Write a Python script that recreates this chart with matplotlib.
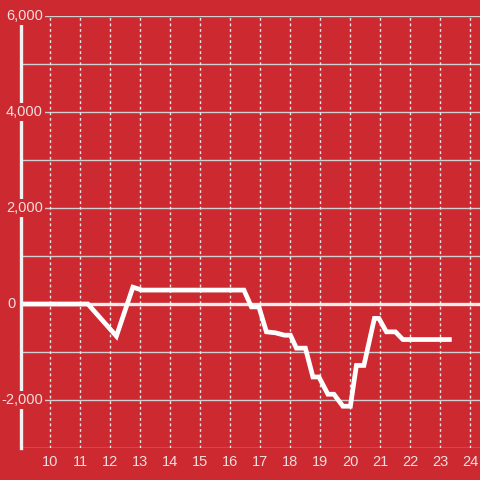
import matplotlib.pyplot as plt
from matplotlib.transforms import blended_transform_factory

# hours of the day and running value
hours = [9.0, 11.25, 12.2, 12.75, 13.05, 16.45, 16.7, 16.95, 17.2, 17.5,
         17.8, 18.0, 18.2, 18.5, 18.75, 18.95, 19.25, 19.45, 19.75, 20.0,
         20.2, 20.45, 20.8, 20.95, 21.2, 21.5, 21.75, 23.3]
values = [0, 0, -670, 350, 290, 290, -60, -60, -580, -600,
          -650, -650, -920, -920, -1520, -1520, -1880, -1880, -2130, -2130,
          -1280, -1280, -300, -300, -580, -580, -740, -740]

x_ticks = list(range(10, 25))
y_grid = list(range(-3000, 7000, 1000))
y_labels = [-2000, 0, 2000, 4000, 6000]

bg = '#cc2a30'
txt = '#f2dede'

plt.rcParams['font.family'] = ['Liberation Sans', 'DejaVu Sans']

fig = plt.figure(figsize=(4.8, 4.8), dpi=100, facecolor=bg)
ax = fig.add_axes([21/480, 1 - 448/480, 1 - 21/480, 432/480])
ax.set_facecolor(bg)

ax.set_xlim(9.02, 24.32)
ax.set_ylim(-3000, 6000)

for v in y_grid:
    if v == 0:
        continue
    ax.axhline(v, color='#cfcfcf', lw=1, zorder=1)
for t in x_ticks:
    ax.axvline(t, color='#e8e8e8', lw=1, ls=(0, (2, 2)), zorder=1)
ax.axhline(0, color='#f0ecec', lw=2.4, zorder=2)

ax.plot(hours, values, color='white', lw=3.4, solid_joinstyle='miter', zorder=3)

for s in ['top', 'right', 'bottom']:
    ax.spines[s].set_visible(False)
ax.spines['left'].set_color('#f2f2f2')
ax.spines['left'].set_linewidth(2.4)
ax.spines['left'].set_zorder(4)

ax.set_xticks(x_ticks)
ax.set_xticklabels([str(t) for t in x_ticks])
ax.set_yticks([])
ax.tick_params(axis='x', length=0, pad=5, labelsize=10.5, labelcolor=txt)

trans = blended_transform_factory(ax.transAxes, ax.transData)
for v in y_labels:
    # the short "0" label sits left of the axis, the long ones overlap it
    xpos = -5/459 if v == 0 else 22/459
    ax.text(xpos, v, f'{v:,}', transform=trans, ha='right', va='center',
            fontsize=10.5, color=txt, zorder=5, clip_on=False,
            bbox=dict(facecolor=bg, edgecolor='none', pad=1.5))

fig.savefig('out.png', dpi=100, facecolor=bg)
